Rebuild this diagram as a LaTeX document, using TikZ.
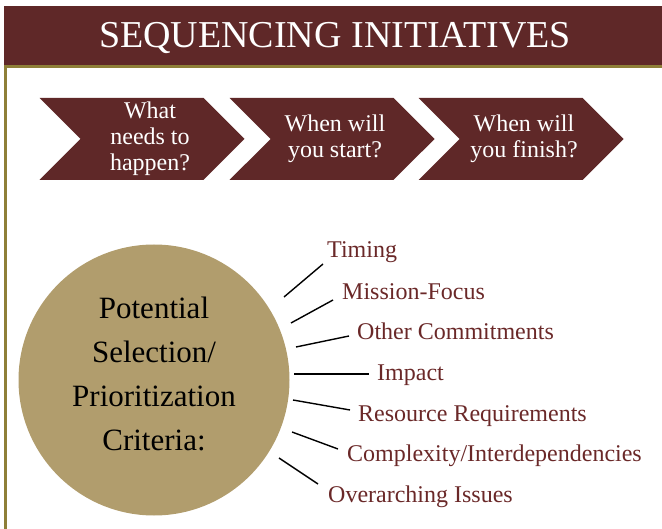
\documentclass[tikz,border=0pt]{standalone}
\usepackage{fontspec}
\setmainfont{Liberation Serif}
\usetikzlibrary{positioning,shapes.symbols}

\definecolor{maroon}{RGB}{95,40,40}
\definecolor{olive}{RGB}{142,127,56}
\definecolor{tan}{RGB}{177,157,109}
\definecolor{labelred}{RGB}{106,40,40}

\begin{document}
\begin{tikzpicture}[x=1pt,y=-1pt,
	chevron/.style={signal,signal to=east,signal from=west,fill=maroon,
		minimum width=205pt,minimum height=82pt,inner sep=0pt},
	frage/.style={text=white,align=center,font=\fontsize{24}{26}\selectfont},
	kriterium/.style={anchor=base west,text=labelred,font=\fontsize{24}{26}\selectfont,inner sep=0pt},
	speiche/.style={line width=1.4pt}]

\useasboundingbox (0,0) rectangle (662,529);

%-------------------------------------------------------------------------------
% Title bar and frame
%-------------------------------------------------------------------------------
\fill [maroon] (4,6) rectangle (662,66);
\node (titel) [anchor=base,text=white,font=\fontsize{38}{40}\selectfont] at (335,48) {SEQUENCING INITIATIVES};
\draw [olive,line width=3pt] (5,529) -- (5,67) -- (662,67);

%-------------------------------------------------------------------------------
% Process chevrons
%-------------------------------------------------------------------------------
\node (chev1) [chevron] at (142,139) {};
\node [frage] at (150,139) {What\\needs to\\happen?};
\node (chev2) [chevron] at (332,139) {};
\node [frage] at (335,139) {When will\\you start?};
\node (chev3) [chevron] at (521,139) {};
\node [frage] at (524,139) {When will\\you finish?};

%-------------------------------------------------------------------------------
% Criteria circle
%-------------------------------------------------------------------------------
\node (krit) [circle,fill=tan,minimum size=271pt,inner sep=0pt] at (154,380) {};
\node (kritext) [align=center,font=\fontsize{31}{44}\selectfont] at (154,374)
	{Potential\\Selection/\\Prioritization\\Criteria:};

%-------------------------------------------------------------------------------
% Criteria list
%-------------------------------------------------------------------------------
\node (timing)  [kriterium] at (327,258) {Timing};
\node (mission) [kriterium] at (342,300) {Mission-Focus};
\node (andere)  [kriterium] at (357,340) {Other Commitments};
\node (impact)  [kriterium] at (377,381) {Impact};
\node (resourc) [kriterium] at (358,422) {Resource Requirements};
\node (komplex) [kriterium] at (347,461) {Complexity/Interdependencies};
\node (issues)  [kriterium] at (328,502) {Overarching Issues};

\coordinate (s1) at (284,297);	\coordinate (e1) at (323,264);
\coordinate (s2) at (291,323);	\coordinate (e2) at (333,300);
\coordinate (s3) at (296,347);	\coordinate (e3) at (349,336);
\coordinate (s4) at (294,374);	\coordinate (e4) at (369,374);
\coordinate (s5) at (293,400);	\coordinate (e5) at (350,410);
\coordinate (s6) at (292,432);	\coordinate (e6) at (338,449);
\coordinate (s7) at (279,458);	\coordinate (e7) at (318,484);

\draw [speiche] (s1) -- (e1);
\draw [speiche] (s2) -- (e2);
\draw [speiche] (s3) -- (e3);
\draw [speiche] (s4) -- (e4);
\draw [speiche] (s5) -- (e5);
\draw [speiche] (s6) -- (e6);
\draw [speiche] (s7) -- (e7);
\end{tikzpicture}
\end{document}
